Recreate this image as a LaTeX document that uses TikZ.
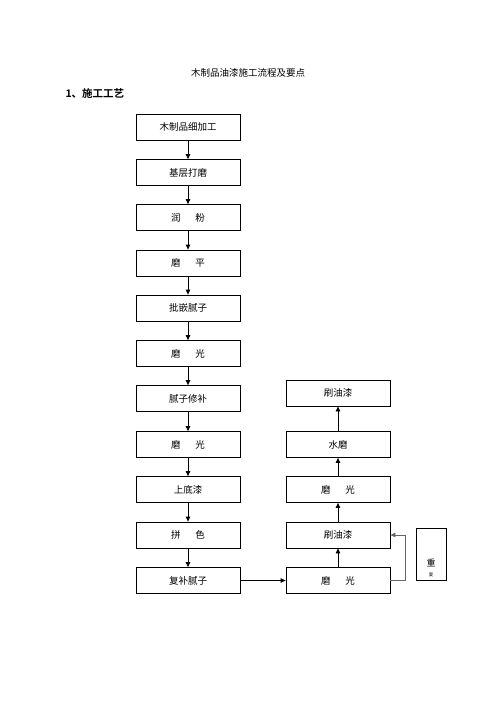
\documentclass[tikz,border=0pt]{standalone}
\usepackage{fontspec}
\setmainfont{Liberation Serif}
\newfontfamily\cjk{Noto Sans CJK SC}
\newfontfamily\cjkb{Noto Sans CJK SC Bold}
\usetikzlibrary{arrows.meta}
\newcommand{\gp}{\hspace{15pt}}
\begin{document}
\begin{tikzpicture}[x=1pt,y=-1pt,
  box/.style={draw,line width=0.8pt,minimum width=104pt,minimum height=26pt,inner sep=0pt,font=\cjk\fontsize{9.5}{10}\selectfont},
  arr/.style={line width=0.8pt,-{Triangle[length=5pt,width=4.5pt]}}]
\useasboundingbox (0,0) rectangle (496,702);
\node[font=\cjk\fontsize{9.5}{10}\selectfont] (title) at (248,73) {木制品油漆施工流程及要点};
\node[font=\cjkb\fontsize{10.5}{11}\selectfont,anchor=west] (sec) at (62,93) {1、施工工艺};
\node[box] (l1) at (188,127) {木制品细加工};
\node[box] (l2) at (188,172.5) {基层打磨};
\node[box] (l3) at (188,217.5) {润\gp 粉};
\node[box] (l4) at (188,263) {磨\gp 平};
\node[box] (l5) at (188,308) {批嵌腻子};
\node[box] (l6) at (188,353.5) {磨\gp 光};
\node[box] (l7) at (188,398.5) {腻子修补};
\node[box] (l8) at (188,444.5) {磨\gp 光};
\node[box] (l9) at (188,489.5) {上底漆};
\node[box] (l10) at (188,535) {拼\gp 色};
\node[box] (l11) at (188,580.5) {复补腻子};
\node[box] (r1) at (338,393) {刷油漆};
\node[box] (r2) at (338,444.5) {水磨};
\node[box] (r3) at (338,489.5) {磨\gp 光};
\node[box] (r4) at (338,535) {刷油漆};
\node[box] (r5) at (338,580.5) {磨\gp 光};
\node[draw,line width=0.8pt,minimum width=30pt,minimum height=52pt,inner sep=0pt] (rep) at (431,554) {};
\node[font=\cjk\fontsize{9}{9}\selectfont] (rep1) at (431,563) {重};
\node[font=\cjk\fontsize{4.5}{5}\selectfont] (rep2) at (431,575) {复};
\foreach \a/\b in {l1/l2,l2/l3,l3/l4,l4/l5,l5/l6,l6/l7,l7/l8,l8/l9,l9/l10,l10/l11,r5/r4,r4/r3,r3/r2,r2/r1}
  \draw[arr] (\a) -- (\b);
\draw[arr] (l11) -- (r5);
\coordinate (lp1) at (405,580.5);
\coordinate (lp2) at (405,535);
\draw[arr,draw=gray!80!black] (r5.east) -- (lp1) -- (lp2) -- (r4.east);
\end{tikzpicture}
\end{document}
